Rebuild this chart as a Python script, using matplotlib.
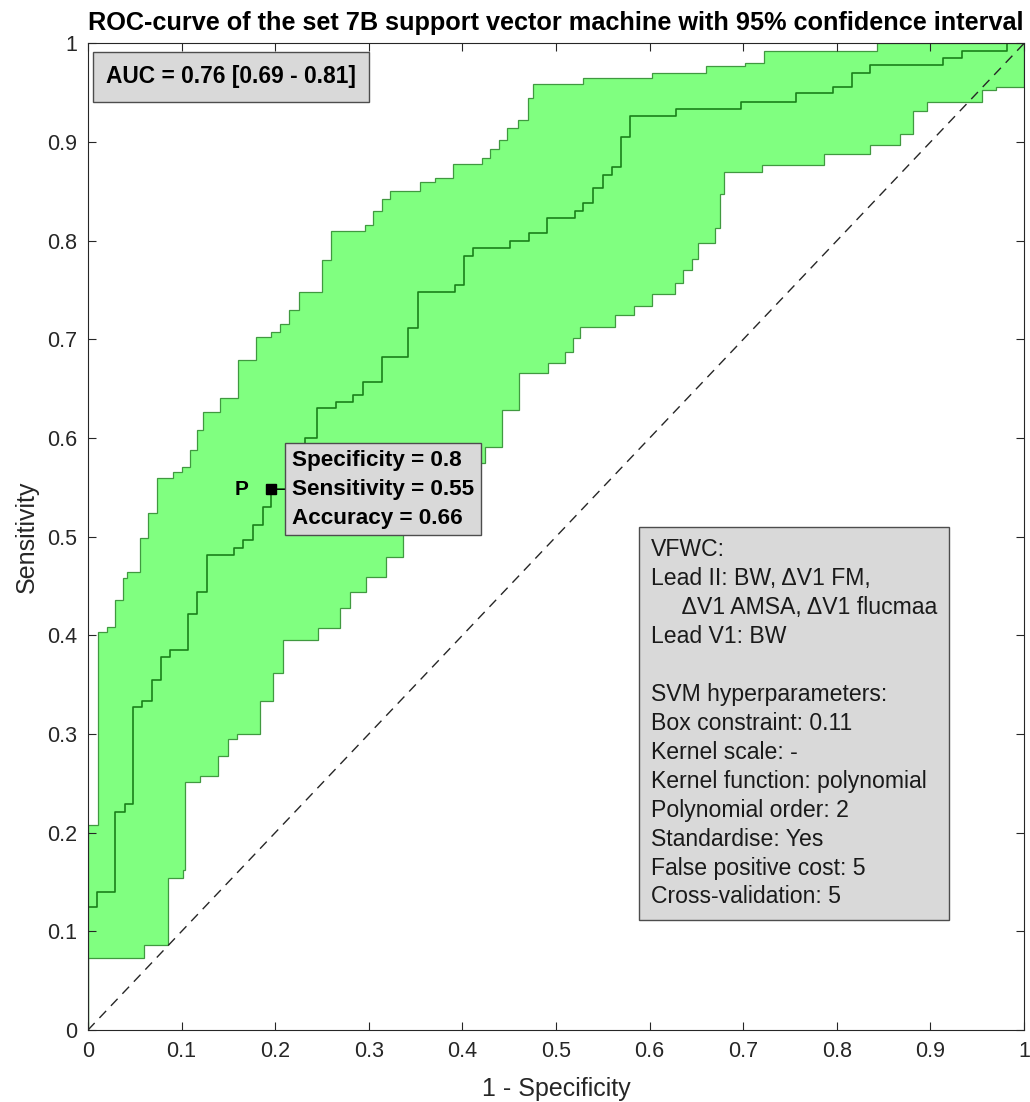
import numpy as np
import matplotlib
matplotlib.use('Agg')
import matplotlib.pyplot as plt

plt.rcParams['font.family'] = ['Liberation Sans', 'DejaVu Sans']

# ROC curves (step form: at x[i] the curve jumps up to y[i])
upper_x = [0, 0.0107, 0.0203, 0.0288, 0.0374, 0.0417, 0.0556, 0.0641, 0.0737, 0.0908,
           0.1004, 0.109, 0.1165, 0.123, 0.141, 0.16, 0.18, 0.196, 0.205, 0.215,
           0.225, 0.25, 0.26, 0.296, 0.305, 0.314, 0.323, 0.355, 0.371, 0.39,
           0.421, 0.43, 0.439, 0.448, 0.459, 0.47, 0.475, 0.529, 0.603, 0.66,
           0.702, 0.722, 0.843, 1.0]
upper_y = [0.208, 0.403, 0.409, 0.436, 0.458, 0.464, 0.499, 0.524, 0.56, 0.566,
           0.571, 0.588, 0.608, 0.626, 0.641, 0.679, 0.702, 0.707, 0.716, 0.73,
           0.748, 0.78, 0.81, 0.816, 0.83, 0.842, 0.85, 0.86, 0.864, 0.878,
           0.884, 0.893, 0.902, 0.914, 0.922, 0.945, 0.959, 0.965, 0.97, 0.977,
           0.98, 0.992, 1.0, 1.0]

mean_x = [0, 0.0096, 0.029, 0.04, 0.048, 0.058, 0.068, 0.078, 0.088, 0.107,
          0.117, 0.127, 0.156, 0.166, 0.176, 0.187, 0.196, 0.216, 0.232, 0.245,
          0.265, 0.283, 0.294, 0.314, 0.342, 0.353, 0.392, 0.402, 0.411, 0.451,
          0.471, 0.49, 0.52, 0.529, 0.54, 0.55, 0.56, 0.569, 0.579, 0.628,
          0.698, 0.756, 0.796, 0.816, 0.835, 0.913, 0.934, 0.982, 1.0]
mean_y = [0.125, 0.14, 0.221, 0.229, 0.327, 0.333, 0.355, 0.378, 0.385, 0.422,
          0.444, 0.481, 0.489, 0.497, 0.512, 0.53, 0.548, 0.575, 0.6, 0.63,
          0.637, 0.644, 0.657, 0.682, 0.712, 0.748, 0.755, 0.785, 0.793, 0.8,
          0.808, 0.823, 0.83, 0.838, 0.853, 0.867, 0.875, 0.905, 0.926, 0.934,
          0.941, 0.95, 0.956, 0.97, 0.978, 0.985, 0.992, 1.0, 1.0]

lower_x = [0, 0.06, 0.085, 0.101, 0.104, 0.12, 0.139, 0.15, 0.159, 0.184,
           0.198, 0.208, 0.246, 0.269, 0.28, 0.297, 0.318, 0.337, 0.376, 0.419,
           0.424, 0.442, 0.46, 0.491, 0.51, 0.518, 0.526, 0.563, 0.583, 0.603,
           0.627, 0.636, 0.645, 0.652, 0.67, 0.675, 0.68, 0.72, 0.786, 0.835,
           0.867, 0.881, 0.896, 0.955, 0.97, 1.0]
lower_y = [0.073, 0.086, 0.154, 0.162, 0.251, 0.257, 0.278, 0.295, 0.3, 0.334,
           0.362, 0.395, 0.407, 0.428, 0.444, 0.459, 0.479, 0.52, 0.55, 0.575,
           0.591, 0.628, 0.666, 0.676, 0.687, 0.701, 0.713, 0.725, 0.734, 0.746,
           0.757, 0.77, 0.781, 0.798, 0.813, 0.847, 0.87, 0.877, 0.888, 0.897,
           0.908, 0.931, 0.941, 0.953, 0.956, 1.0]

p_fpr, p_tpr = 0.196, 0.548
auc_text = 'AUC = 0.76 [0.69 - 0.81]'
point_text = 'Specificity = 0.8\nSensitivity = 0.55\nAccuracy = 0.66'
info_lines = ['VFWC:',
              'Lead II: BW, \u0394V1 FM,',
              '     \u0394V1 AMSA, \u0394V1 flucmaa',
              'Lead V1: BW',
              '',
              'SVM hyperparameters:',
              'Box constraint: 0.11',
              'Kernel scale: -',
              'Kernel function: polynomial',
              'Polynomial order: 2',
              'Standardise: Yes',
              'False positive cost: 5',
              'Cross-validation: 5']
ticks = np.arange(0, 1.01, 0.1)
tick_labels = ['0', '0.1', '0.2', '0.3', '0.4', '0.5', '0.6', '0.7', '0.8', '0.9', '1']

grey_box = dict(facecolor=(0.85, 0.85, 0.85), edgecolor=(0.3, 0.3, 0.3), linewidth=1.0)


def stairs(x, y):
    # vertices of a staircase starting at (0, 0)
    vx, vy = [0.0], [0.0]
    prev = 0.0
    for xi, yi in zip(x, y):
        vx += [xi, xi]
        vy += [prev, yi]
        prev = yi
    return np.array(vx), np.array(vy)


fig = plt.figure(figsize=(10.3, 11.02), dpi=100)
ax = fig.add_axes([0.0854, 0.0653, 0.9088, 0.8953])

ux, uy = stairs(upper_x, upper_y)
lx, ly = stairs(lower_x, lower_y)
ax.fill(np.concatenate([ux, lx[::-1]]), np.concatenate([uy, ly[::-1]]),
        facecolor=(0.5, 1.0, 0.5), edgecolor=(0.25, 0.6, 0.25), linewidth=0.9, zorder=1)

mx, my = stairs(mean_x, mean_y)
ax.plot(mx, my, color=(0.1, 0.5, 0.1), linewidth=1.2, zorder=2)

ax.plot([0, 1], [0, 1], color=(0.15, 0.15, 0.15), linestyle=(0, (7, 5)), linewidth=1.0, zorder=3)

ax.plot([p_fpr], [p_tpr], 's', color='black', markersize=7, zorder=5)
ax.text(p_fpr - 0.024, p_tpr, 'P', fontsize=15, fontweight='bold', ha='right', va='center', zorder=5)
ax.annotate(point_text, xy=(p_fpr, p_tpr), xytext=(0.218, p_tpr),
            fontsize=16.2, fontweight='bold', ha='left', va='center', linespacing=1.48,
            bbox=dict(boxstyle='square,pad=0.3', **grey_box),
            arrowprops=dict(arrowstyle='-', color='black', lw=0.8, shrinkA=0, shrinkB=0), zorder=6)

ax.text(0.019, 0.966, auc_text, transform=ax.transAxes, fontsize=16.4, fontweight='bold',
        ha='left', va='center',
        bbox=dict(boxstyle='square,pad=0.58', **grey_box), zorder=6)

ax.text(0.6015, 0.4985, '\n'.join(info_lines), transform=ax.transAxes, fontsize=16.6,
        ha='left', va='top', linespacing=1.33, color=(0.1, 0.1, 0.1),
        bbox=dict(boxstyle='square,pad=0.5', **grey_box), zorder=6)

ax.set_xlim(0, 1)
ax.set_ylim(0, 1)
ax.set_xticks(ticks)
ax.set_yticks(ticks)
ax.set_xticklabels(tick_labels)
ax.set_yticklabels(tick_labels)
ax.tick_params(direction='in', length=6, width=0.8, top=True, right=True,
               labelsize=15.5, colors=(0.15, 0.15, 0.15), pad=8)
for s in ax.spines.values():
    s.set_color((0.15, 0.15, 0.15))
    s.set_linewidth(0.8)
ax.set_xlabel('1 - Specificity', fontsize=18, color=(0.15, 0.15, 0.15), labelpad=11)
ax.set_ylabel('Sensitivity', fontsize=18, color=(0.15, 0.15, 0.15), labelpad=6)
ax.set_title('ROC-curve of the set 7B support vector machine with 95% confidence interval',
             fontsize=18.2, fontweight='bold', pad=10)

fig.savefig('out.png', dpi=100)
